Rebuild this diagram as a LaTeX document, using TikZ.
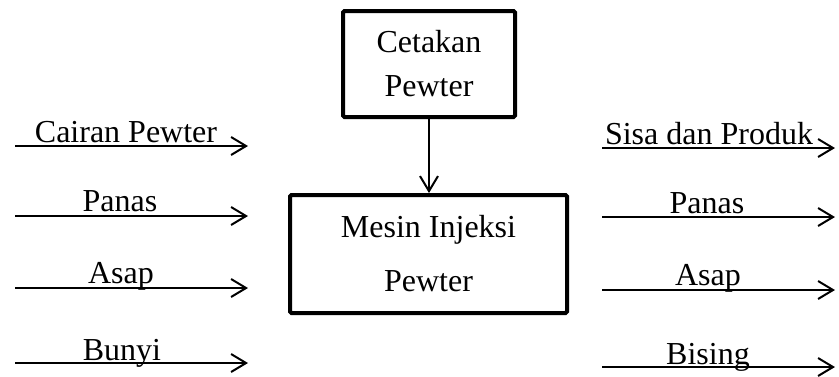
\documentclass[tikz,border=0pt]{standalone}
\usepackage{fontspec}
\setmainfont{Liberation Serif}
\usetikzlibrary{arrows.meta}
\begin{document}
\begin{tikzpicture}[x=1pt,y=-1pt,
  flow/.style={line width=2pt,-{Straight Barb[length=15pt,width=18pt]}},
  lbl/.style={anchor=base,inner sep=0pt,font=\fontsize{32}{38}\selectfont},
  box/.style={draw,line width=4pt,rounded corners=1.5pt,inner sep=0pt,align=center}
]
\useasboundingbox (0,0) rectangle (839,376);

% process boxes
\node[box,minimum width=172pt,minimum height=106pt,
      font=\fontsize{32}{44}\selectfont] (mold) at (429,64) {Cetakan\\Pewter};
\node[box,minimum width=277pt,minimum height=118pt,
      font=\fontsize{32}{54}\selectfont] (machine) at (428.5,254) {Mesin Injeksi\\Pewter};
\draw[flow] (mold.south) -- (mold.south |- machine.north);

% inputs
\coordinate (i1s) at (15,146);  \coordinate (i1e) at (248,146);
\coordinate (i2s) at (15,216);  \coordinate (i2e) at (248,216);
\coordinate (i3s) at (15,288);  \coordinate (i3e) at (248,288);
\coordinate (i4s) at (15,363);  \coordinate (i4e) at (248,363);
\draw[flow] (i1s) -- (i1e);
\draw[flow] (i2s) -- (i2e);
\draw[flow] (i3s) -- (i3e);
\draw[flow] (i4s) -- (i4e);
\node[lbl] (i1t) at (126,142) {Cairan Pewter};
\node[lbl] (i2t) at (120,211) {Panas};
\node[lbl] (i3t) at (121,283) {Asap};
\node[lbl] (i4t) at (122,360) {Bunyi};

% outputs
\coordinate (o1s) at (602,148); \coordinate (o1e) at (835,148);
\coordinate (o2s) at (602,217); \coordinate (o2e) at (835,217);
\coordinate (o3s) at (602,290); \coordinate (o3e) at (835,290);
\coordinate (o4s) at (602,367); \coordinate (o4e) at (835,367);
\draw[flow] (o1s) -- (o1e);
\draw[flow] (o2s) -- (o2e);
\draw[flow] (o3s) -- (o3e);
\draw[flow] (o4s) -- (o4e);
\node[lbl] (o1t) at (709,144) {Sisa dan Produk};
\node[lbl] (o2t) at (707,213) {Panas};
\node[lbl] (o3t) at (708,285) {Asap};
\node[lbl] (o4t) at (708,364) {Bising};
\end{tikzpicture}
\end{document}
